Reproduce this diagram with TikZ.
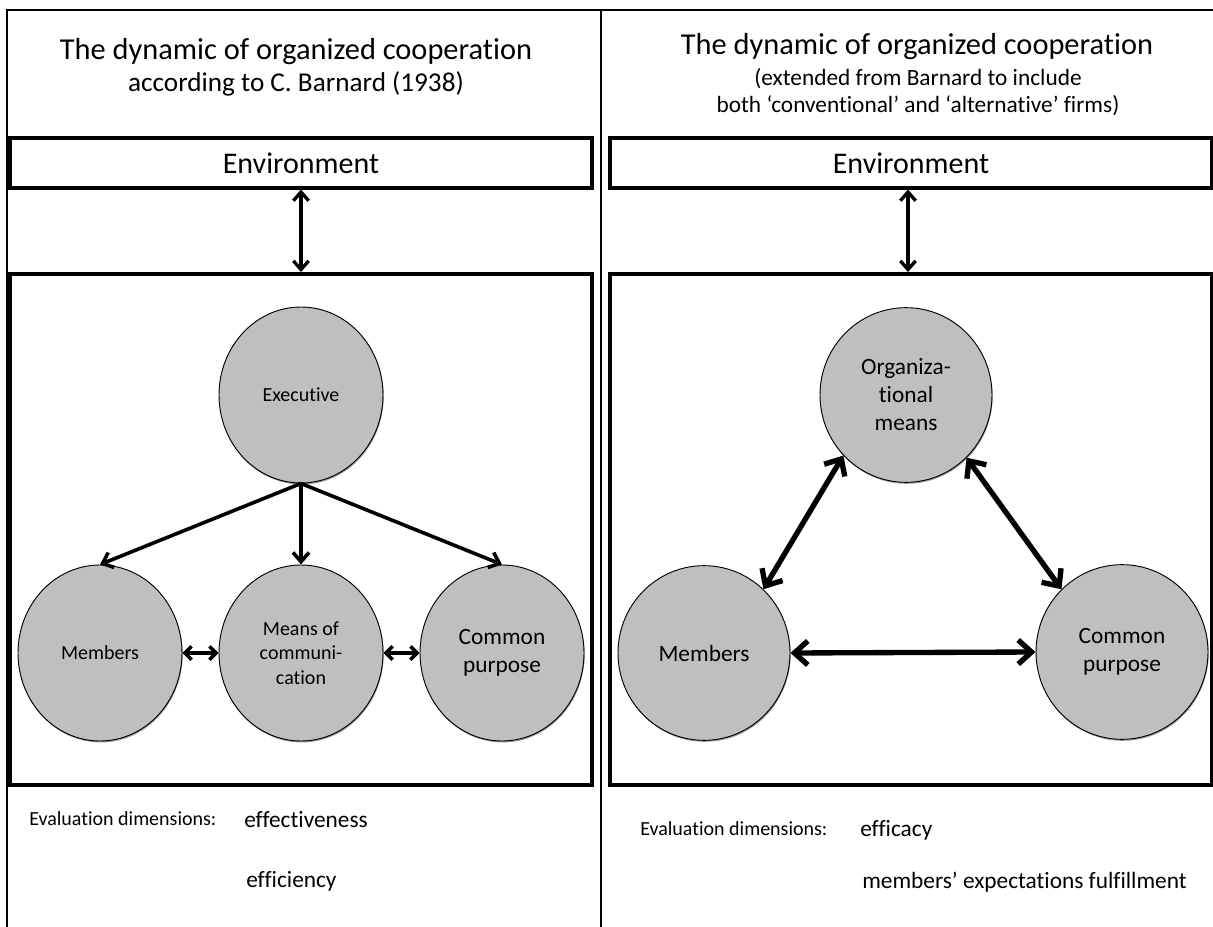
\documentclass[tikz,border=0pt]{standalone}
\usepackage{fontspec}
\setmainfont{Carlito}[Ligatures=NoCommon]
\usetikzlibrary{arrows.meta,shapes.geometric,shadows}
\definecolor{bubblegray}{RGB}{191,191,191}
\begin{document}
\begin{tikzpicture}[x=0.75pt,y=-0.75pt,
  frameline/.style={line width=1.8pt},
  envbox/.style={draw,line width=2.3pt,minimum height=37.5pt,inner sep=0pt,font=\fontsize{22.5}{27}\selectfont},
  mainbox/.style={draw,line width=3.2pt,minimum height=383pt,inner sep=0pt},
  bubble/.style={ellipse,draw,line width=0.7pt,fill=bubblegray,inner sep=0pt,align=center,
     drop shadow={shadow xshift=0.5pt,shadow yshift=-1.1pt,fill=black!40,opacity=1}},
  bubbleL/.style={bubble,minimum width=123pt,minimum height=132pt},
  bubbleR/.style={bubble,minimum width=129pt,minimum height=131pt},
  smallfont/.style={font=\fontsize{15}{18.4}\selectfont},
  bigfont/.style={font=\fontsize{17.5}{21}\selectfont},
  thinarrow/.style={line width=2.5pt,{Straight Barb[length=6.5pt,width=11.5pt]}-{Straight Barb[length=6.5pt,width=11.5pt]}},
  treearrow/.style={line width=2.7pt,-{Straight Barb[length=7pt,width=12pt]}},
  tinyarrow/.style={line width=2.6pt,{Straight Barb[length=5pt,width=10pt]}-{Straight Barb[length=5pt,width=10pt]}},
  thickarrow/.style={line width=4pt,{Straight Barb[length=10pt,width=18pt]}-{Straight Barb[length=10pt,width=18pt]}},
  txt/.style={inner sep=0pt,anchor=base}
]
\useasboundingbox (0,0) rectangle (1213,927);
\fill[white] (0,0) rectangle (1213,927);

% outer frame and divider
\draw[frameline] (7,927) -- (7,10) -- (1213,10);
\draw[line width=2.2pt] (601,11) -- (601,927);

% ---------------- left panel ----------------
\node[txt,font=\fontsize{22.8}{27}\selectfont] (titleL) at (296,60) {The dynamic of organized cooperation};
\node[txt,font=\fontsize{20.4}{24}\selectfont] (subL) at (296,92) {according to C. Barnard (1938)};

\node[envbox,minimum width=436.5pt] (envL) at (301,163) {Environment};
\node[mainbox,minimum width=436.5pt] (mainL) at (301,529.5) {};
\draw[thinarrow] (envL.south) -- (mainL.north);

\node[bubbleL,smallfont] (exec) at (301,395) {Executive};
\node[bubbleL,smallfont] (memL) at (100,653) {Members};
\node[bubbleL,smallfont] (meansL) at (301,653) {Means of\\communi-\\cation};
\node[bubbleL,bigfont] (comL) at (502,653) {Common\\purpose};

\draw[treearrow] (exec.south) -- (memL.north);
\draw[treearrow] (exec.south) -- (meansL.north);
\draw[treearrow] (exec.south) -- (comL.north);
\draw[tinyarrow] (memL.east) -- (meansL.west);
\draw[tinyarrow] (meansL.east) -- (comL.west);

\node[txt,anchor=base west,font=\fontsize{15}{18}\selectfont] (evalL) at (29,825) {Evaluation dimensions:};
\node[txt,anchor=base west,font=\fontsize{17.5}{21}\selectfont] (effL1) at (244,827) {effectiveness};
\node[txt,anchor=base west,font=\fontsize{17.5}{21}\selectfont] (effL2) at (246,887) {efficiency};

% ---------------- right panel ----------------
\node[txt,font=\fontsize{22.8}{27}\selectfont] (titleR) at (917,55) {The dynamic of organized cooperation};
\node[txt,font=\fontsize{17.5}{21}\selectfont] (subR1) at (918,86) {(extended from Barnard to include};
\node[txt,font=\fontsize{17.5}{21}\selectfont] (subR2) at (918,113) {both ‘conventional’ and ‘alternative’ firms)};

\node[envbox,minimum width=451.5pt] (envR) at (911,163) {Environment};
\node[mainbox,minimum width=451.5pt] (mainR) at (911,529.5) {};
\draw[thinarrow] (envR.south -| 908,0) -- (mainR.north -| 908,0);

\node[bubbleR,bigfont] (org) at (906,395) {Organiza-\\tional\\means};
\node[bubbleR,bigfont] (memR) at (704,653) {Members};
\node[bubbleR,bigfont] (comR) at (1122,652) {Common\\purpose};

\draw[thickarrow] (org.224) -- (memR.47);
\draw[thickarrow] (org.314) -- (comR.134);
\draw[thickarrow] (memR.east) -- (comR.west);

\node[txt,anchor=base west,font=\fontsize{15}{18}\selectfont] (evalR) at (640,835) {Evaluation dimensions:};
\node[txt,anchor=base west,font=\fontsize{17.5}{21}\selectfont] (effR1) at (860,836) {efficacy};
\node[txt,anchor=base west,font=\fontsize{17.5}{21}\selectfont] (effR2) at (862,888) {members’ expectations fulfillment};
\end{tikzpicture}
\end{document}
